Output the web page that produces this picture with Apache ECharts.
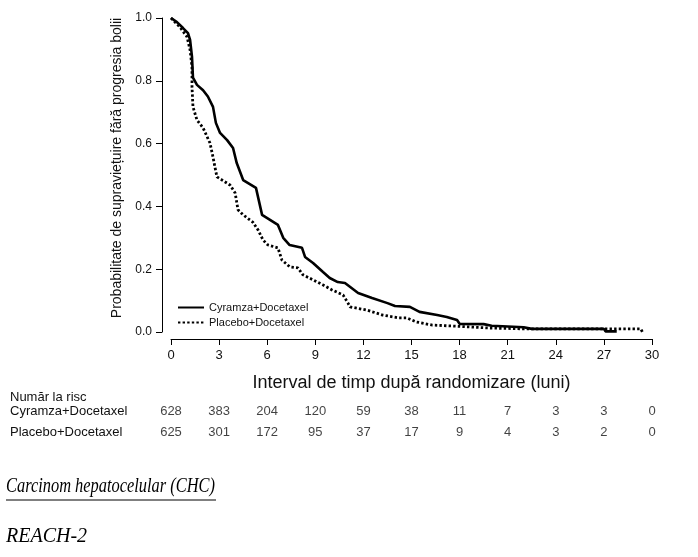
<!DOCTYPE html>
<html>
<head>
<meta charset="utf-8">
<script src="https://cdn.jsdelivr.net/npm/echarts@6/dist/echarts.min.js"></script>
<style>
  html, body { margin: 0; padding: 0; background: #fff; }
  #chart { width: 698px; height: 557px; }
</style>
</head>
<body>
<div id="chart"></div>
<script>
// luni dupa randomizare / probabilitate
const cyrMonths = [0, 0.37, 0.75, 1.06, 1.19, 1.31, 1.37, 1.62, 2.0, 2.3, 2.62, 2.8, 3.06, 3.5, 3.87, 4.1, 4.5, 5.3, 5.68, 6.67, 7.0, 7.4, 8.17, 8.36, 8.86, 9.48, 9.9, 10.4, 10.85, 11.67, 12.54, 13.5, 13.97, 14.9, 15.5, 16.6, 17.2, 17.84, 18.0, 19.5, 20.0, 22.0, 22.5, 27.0, 27.1, 27.8];
const cyrSurv   = [1.0, 0.987, 0.968, 0.952, 0.93, 0.876, 0.81, 0.787, 0.77, 0.75, 0.717, 0.666, 0.634, 0.611, 0.586, 0.538, 0.484, 0.459, 0.373, 0.341, 0.30, 0.277, 0.268, 0.239, 0.22, 0.191, 0.172, 0.159, 0.156, 0.124, 0.108, 0.092, 0.083, 0.08, 0.064, 0.054, 0.048, 0.038, 0.026, 0.025, 0.02, 0.015, 0.01, 0.01, 0.002, 0.002];
const plaMonths = [0, 0.56, 1.0, 1.19, 1.31, 1.31, 1.37, 1.62, 2.0, 2.43, 2.62, 2.8, 2.87, 3.68, 4.0, 4.18, 4.5, 5.1, 5.43, 5.74, 6.05, 6.67, 6.92, 7.42, 7.92, 8.23, 8.86, 9.48, 10.04, 10.73, 11.04, 11.17, 12.2, 13.2, 14.2, 14.7, 15.3, 16.3, 17.6, 19.7, 22.0, 29.3, 29.4];
const plaSurv   = [1.0, 0.971, 0.94, 0.898, 0.844, 0.78, 0.717, 0.675, 0.65, 0.602, 0.557, 0.51, 0.494, 0.468, 0.443, 0.389, 0.373, 0.35, 0.325, 0.293, 0.277, 0.268, 0.229, 0.207, 0.204, 0.182, 0.166, 0.15, 0.134, 0.118, 0.092, 0.08, 0.07, 0.054, 0.045, 0.045, 0.032, 0.022, 0.019, 0.013, 0.01, 0.01, 0.0];

// numar la risc
const riskMonths = [0, 3, 6, 9, 12, 15, 18, 21, 24, 27, 30];
const riskCyr = [628, 383, 204, 120, 59, 38, 11, 7, 3, 3, 0];
const riskPla = [625, 301, 172, 95, 37, 17, 9, 4, 3, 2, 0];

const armNames = ['Cyramza+Docetaxel', 'Placebo+Docetaxel'];

const font = 'Liberation Sans, Arial, sans-serif';
const serif = 'Liberation Serif, Times New Roman, serif';
const myChart = echarts.init(document.getElementById('chart'));

function pairs(xs, ys) {
    return xs.map(function (x, i) { return [x, ys[i]]; });
}

const riskData = [];
riskMonths.forEach(function (m, i) {
    riskData.push([m, armNames[0], riskCyr[i]]);
    riskData.push([m, armNames[1], riskPla[i]]);
});

const option = {
    backgroundColor: '#fff',
    animation: false,
    textStyle: { fontFamily: font },
    grid: [
        { left: 171, right: 46, top: 18, height: 314 },
        { left: 171, right: 46, top: 401, height: 42 }
    ],
    legend: {
        data: armNames,
        orient: 'vertical',
        left: 172,
        top: 297,
        itemWidth: 26,
        itemHeight: 10,
        itemGap: 4,
        itemStyle: { color: 'rgba(0,0,0,0)', borderWidth: 0 },
        textStyle: { fontSize: 11, color: '#111', fontFamily: font }
    },
    xAxis: [{
        type: 'value',
        gridIndex: 0,
        min: 0, max: 30, interval: 3,
        offset: 7,
        name: 'Interval de timp după randomizare (luni)',
        nameLocation: 'middle',
        nameGap: 35,
        nameTextStyle: { fontSize: 18, color: '#111', fontFamily: font },
        axisLine: { onZero: false, lineStyle: { color: '#000', width: 1 } },
        axisTick: { length: 6, lineStyle: { color: '#000' } },
        axisLabel: { fontSize: 13, color: '#111', margin: 10 },
        splitLine: { show: false }
    }, {
        type: 'value',
        gridIndex: 1,
        min: 0, max: 30,
        show: false
    }],
    yAxis: [{
        type: 'value',
        gridIndex: 0,
        min: 0, max: 1, interval: 0.2,
        offset: 9,
        name: 'Probabilitate de supraviețuire fără progresia bolii',
        nameLocation: 'middle',
        nameGap: 36,
        nameTextStyle: { fontSize: 14, color: '#111', fontFamily: font, padding: [0, 0, 0, 14] },
        axisLine: { show: true, onZero: false, lineStyle: { color: '#000', width: 1 } },
        axisTick: { show: true, length: 6, lineStyle: { color: '#000' } },
        axisLabel: {
            fontSize: 12, color: '#111', margin: 10,
            formatter: function (v) { return v.toFixed(1); }
        },
        splitLine: { show: false }
    }, {
        type: 'category',
        gridIndex: 1,
        data: [armNames[1], armNames[0]],
        axisLine: { show: false },
        axisTick: { show: false },
        axisLabel: { fontSize: 13, color: '#111', align: 'left', margin: 161 }
    }],
    series: [{
        name: armNames[0],
        type: 'line',
        xAxisIndex: 0, yAxisIndex: 0,
        symbol: 'none',
        data: pairs(cyrMonths, cyrSurv),
        lineStyle: { color: '#000', width: 2.6 },
        itemStyle: { color: '#000' }
    }, {
        name: armNames[1],
        type: 'line',
        xAxisIndex: 0, yAxisIndex: 0,
        symbol: 'none',
        data: pairs(plaMonths, plaSurv),
        lineStyle: { color: '#000', width: 2.8, type: [2.4, 2.2] },
        itemStyle: { color: '#000' }
    }, {
        type: 'scatter',
        xAxisIndex: 1, yAxisIndex: 1,
        symbolSize: 1,
        itemStyle: { color: 'rgba(0,0,0,0)' },
        label: {
            show: true,
            position: 'inside',
            fontSize: 13,
            color: '#111',
            formatter: function (p) { return p.value[2]; }
        },
        data: riskData
    }],
    graphic: [
        { type: 'text', left: 10, top: 391, style: { text: 'Număr la risc', font: '13px ' + font, fill: '#111' } },
        { type: 'text', x: 6, y: 477, scaleX: 0.82, style: { text: 'Carcinom hepatocelular (CHC)', font: 'italic 20px ' + serif, fill: '#000' } },
        { type: 'line', shape: { x1: 6, y1: 500, x2: 216, y2: 500 }, style: { stroke: '#000', lineWidth: 1 } },
        { type: 'text', left: 6, top: 527, style: { text: 'REACH-2', font: 'italic 20px ' + serif, fill: '#000' } }
    ]
};

myChart.setOption(option);
</script>
</body>
</html>
